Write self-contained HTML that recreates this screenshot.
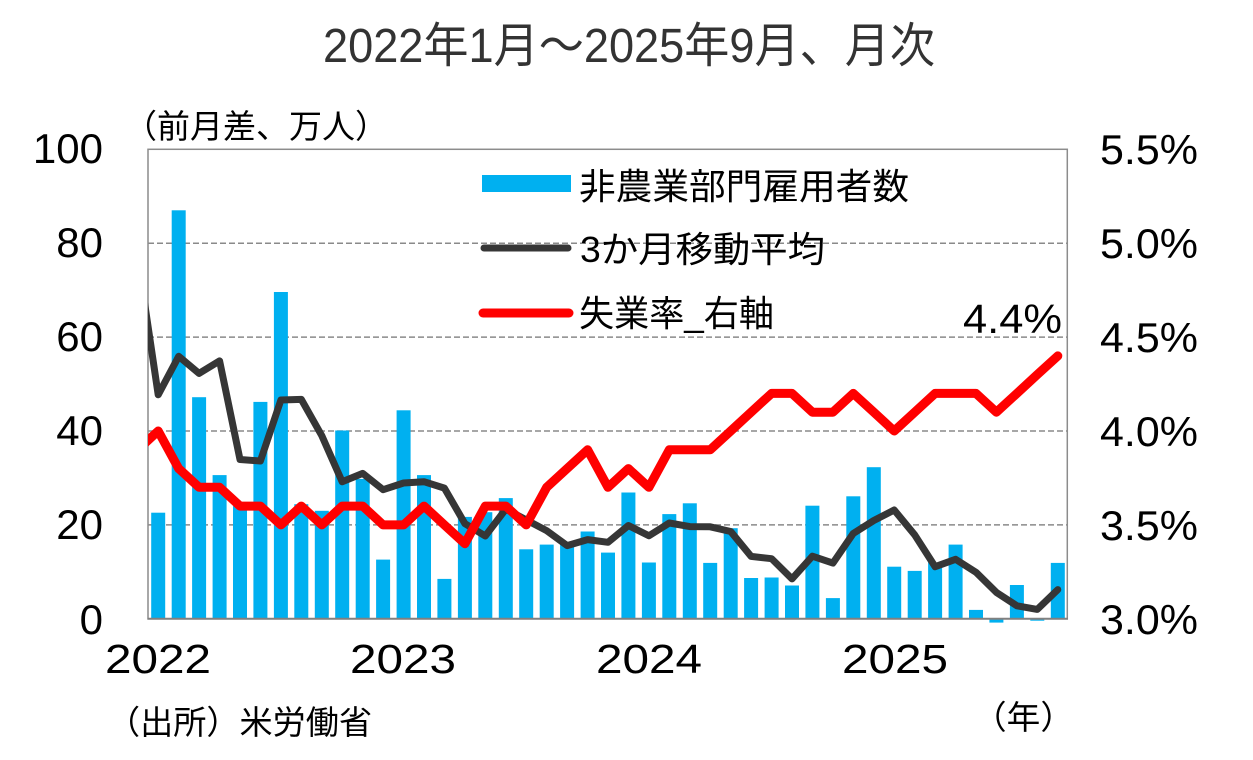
<!DOCTYPE html>
<html><head><meta charset="utf-8"><style>
html,body{margin:0;padding:0;background:#fff;}
svg{display:block;}
text{font-family:"Liberation Sans","Noto Sans CJK JP",sans-serif;}
</style></head><body>
<svg width="1253" height="760" viewBox="0 0 1253 760" xmlns="http://www.w3.org/2000/svg">
<rect x="0" y="0" width="1253" height="760" fill="#fff"/>
<defs><clipPath id="pc"><rect x="148" y="100" width="919.5" height="560"/></clipPath></defs>

<text x="323" y="62" font-size="48" fill="#333" textLength="612" lengthAdjust="spacingAndGlyphs">2022年1月～2025年9月、月次</text>

<g stroke="#8a8a8a" stroke-width="1.5" stroke-dasharray="6,3">
<line x1="148" y1="243.2" x2="1067" y2="243.2"/>
<line x1="148" y1="337.1" x2="1067" y2="337.1"/>
<line x1="148" y1="431.0" x2="1067" y2="431.0"/>
<line x1="148" y1="524.9" x2="1067" y2="524.9"/>
</g>

<g fill="#00B0F0">
<rect x="151.2" y="512.7" width="14" height="106.1"/>
<rect x="171.7" y="210.3" width="14" height="408.5"/>
<rect x="192.1" y="397.2" width="14" height="221.6"/>
<rect x="212.6" y="475.1" width="14" height="143.7"/>
<rect x="233.0" y="506.1" width="14" height="112.7"/>
<rect x="253.4" y="401.9" width="14" height="216.9"/>
<rect x="273.9" y="292.0" width="14" height="326.8"/>
<rect x="294.3" y="504.2" width="14" height="114.6"/>
<rect x="314.8" y="510.8" width="14" height="108.0"/>
<rect x="335.2" y="430.5" width="14" height="188.3"/>
<rect x="355.7" y="478.9" width="14" height="139.9"/>
<rect x="376.1" y="559.6" width="14" height="59.2"/>
<rect x="396.6" y="410.3" width="14" height="208.5"/>
<rect x="417.0" y="475.1" width="14" height="143.7"/>
<rect x="437.4" y="578.9" width="14" height="39.9"/>
<rect x="457.9" y="516.9" width="14" height="101.9"/>
<rect x="478.3" y="512.2" width="14" height="106.6"/>
<rect x="498.8" y="498.1" width="14" height="120.7"/>
<rect x="519.2" y="549.3" width="14" height="69.5"/>
<rect x="539.7" y="544.6" width="14" height="74.2"/>
<rect x="560.1" y="542.7" width="14" height="76.1"/>
<rect x="580.6" y="531.5" width="14" height="87.3"/>
<rect x="601.0" y="552.6" width="14" height="66.2"/>
<rect x="621.4" y="492.5" width="14" height="126.3"/>
<rect x="641.9" y="562.5" width="14" height="56.3"/>
<rect x="662.3" y="514.1" width="14" height="104.7"/>
<rect x="682.8" y="503.3" width="14" height="115.5"/>
<rect x="703.2" y="562.9" width="14" height="55.9"/>
<rect x="723.7" y="528.2" width="14" height="90.6"/>
<rect x="744.1" y="578.0" width="14" height="40.8"/>
<rect x="764.6" y="577.5" width="14" height="41.3"/>
<rect x="785.0" y="585.5" width="14" height="33.3"/>
<rect x="805.4" y="505.7" width="14" height="113.1"/>
<rect x="825.9" y="598.1" width="14" height="20.7"/>
<rect x="846.3" y="496.3" width="14" height="122.5"/>
<rect x="866.8" y="467.2" width="14" height="151.6"/>
<rect x="887.2" y="566.7" width="14" height="52.1"/>
<rect x="907.7" y="570.9" width="14" height="47.9"/>
<rect x="928.1" y="562.5" width="14" height="56.3"/>
<rect x="948.6" y="544.6" width="14" height="74.2"/>
<rect x="969.0" y="609.9" width="14" height="8.9"/>
<rect x="989.4" y="618.8" width="14" height="3.8"/>
<rect x="1009.9" y="585.0" width="14" height="33.8"/>
<rect x="1030.3" y="618.8" width="14" height="1.9"/>
<rect x="1050.8" y="562.9" width="14" height="55.9"/>
</g>

<rect x="148" y="149.3" width="919.3" height="469.5" fill="none" stroke="#8c8c8c" stroke-width="1.5"/>
<line x1="147.5" y1="618.8" x2="1068" y2="618.8" stroke="#808080" stroke-width="2"/>

<g clip-path="url(#pc)" fill="none" stroke-linejoin="round" stroke-linecap="round">
<polyline stroke="#363636" stroke-width="7" points="137.8,257.3 158.2,394.8 178.7,356.3 199.1,373.4 219.6,360.9 240.0,459.5 260.4,461.0 280.9,400.0 301.3,399.4 321.8,435.7 342.2,481.8 362.7,473.4 383.1,489.7 403.6,483.0 424.0,481.7 444.4,488.1 464.9,523.6 485.3,536.0 505.8,509.1 526.2,519.9 546.7,530.7 567.1,545.6 587.6,539.6 608.0,542.3 628.4,525.5 648.9,535.8 669.3,523.0 689.8,526.6 710.2,526.8 730.7,531.5 751.1,556.4 771.6,558.7 792.0,578.9 812.4,556.2 832.9,563.1 853.3,533.4 873.8,520.5 894.2,510.0 914.7,534.9 935.1,566.7 955.6,559.3 976.0,572.3 996.4,592.4 1016.9,605.8 1037.3,609.4 1057.8,589.6"/>
<polyline stroke="#FF0000" stroke-width="9" points="137.8,449.8 158.2,431.0 178.7,468.6 199.1,487.3 219.6,487.3 240.0,506.1 260.4,506.1 280.9,524.9 301.3,506.1 321.8,524.9 342.2,506.1 362.7,506.1 383.1,524.9 403.6,524.9 424.0,506.1 444.4,524.9 464.9,543.7 485.3,506.1 505.8,506.1 526.2,524.9 546.7,487.3 567.1,468.6 587.6,449.8 608.0,487.3 628.4,468.6 648.9,487.3 669.3,449.8 689.8,449.8 710.2,449.8 730.7,431.0 751.1,412.2 771.6,393.4 792.0,393.4 812.4,412.2 832.9,412.2 853.3,393.4 873.8,412.2 894.2,431.0 914.7,412.2 935.1,393.4 955.6,393.4 976.0,393.4 996.4,412.2 1016.9,393.4 1037.3,374.6 1057.8,355.9"/>
</g>

<rect x="482" y="175" width="89" height="17" fill="#00B0F0"/>
<line x1="484" y1="248" x2="568" y2="248" stroke="#363636" stroke-width="7" stroke-linecap="round"/>
<line x1="483" y1="313" x2="569" y2="313" stroke="#FF0000" stroke-width="9" stroke-linecap="round"/>
<text x="579" y="199" font-size="36" fill="#000" textLength="330" lengthAdjust="spacingAndGlyphs">非農業部門雇用者数</text>
<text x="580" y="262" font-size="36" fill="#000" textLength="245" lengthAdjust="spacingAndGlyphs">3か月移動平均</text>
<text x="579" y="326" font-size="36" fill="#000" textLength="195" lengthAdjust="spacingAndGlyphs">失業率_右軸</text>

<text x="124" y="138" font-size="33" fill="#000" textLength="264" lengthAdjust="spacingAndGlyphs">（前月差、万人）</text>

<g font-size="42" fill="#000" text-anchor="end">
<text x="103" y="163">100</text>
<text x="103" y="257">80</text>
<text x="103" y="351">60</text>
<text x="103" y="445">40</text>
<text x="103" y="539">20</text>
<text x="103" y="634">0</text>
</g>

<g font-size="42" fill="#000">
<text x="1100" y="164" textLength="98" lengthAdjust="spacingAndGlyphs">5.5%</text>
<text x="1100" y="258" textLength="98" lengthAdjust="spacingAndGlyphs">5.0%</text>
<text x="1100" y="352" textLength="98" lengthAdjust="spacingAndGlyphs">4.5%</text>
<text x="1100" y="446" textLength="98" lengthAdjust="spacingAndGlyphs">4.0%</text>
<text x="1100" y="540" textLength="98" lengthAdjust="spacingAndGlyphs">3.5%</text>
<text x="1100" y="634" textLength="98" lengthAdjust="spacingAndGlyphs">3.0%</text>
</g>

<text x="963" y="333" font-size="41" fill="#000" textLength="99" lengthAdjust="spacingAndGlyphs">4.4%</text>

<g font-size="41" fill="#000">
<text x="105" y="673" textLength="106" lengthAdjust="spacingAndGlyphs">2022</text>
<text x="350" y="673" textLength="106" lengthAdjust="spacingAndGlyphs">2023</text>
<text x="596" y="673" textLength="106" lengthAdjust="spacingAndGlyphs">2024</text>
<text x="842" y="673" textLength="106" lengthAdjust="spacingAndGlyphs">2025</text>
</g>

<text x="107" y="734" font-size="33" fill="#000" textLength="265" lengthAdjust="spacingAndGlyphs">（出所）米労働省</text>
<text x="973" y="729" font-size="33" fill="#000" textLength="101" lengthAdjust="spacingAndGlyphs">（年）</text>
</svg>
</body></html>
